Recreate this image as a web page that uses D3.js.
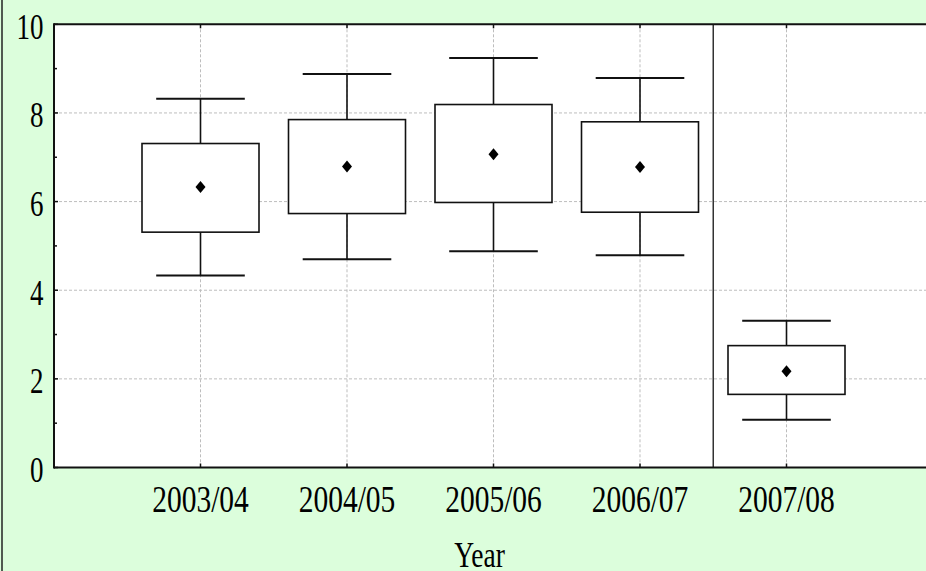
<!DOCTYPE html>
<html>
<head>
<meta charset="utf-8">
<script src="https://cdn.jsdelivr.net/npm/d3@7"></script>
<style>
	body { margin: 0; padding: 0; background: #dcfedc; overflow: hidden; }
	svg { display: block; }
	.lbl { font-family: "Liberation Serif", "DejaVu Serif", serif; fill: #000; }
</style>
</head>
<body>
<svg id="chart" width="926" height="571"></svg>
<script>
var categories = ["2003/04", "2004/05", "2005/06", "2006/07", "2007/08"];
var whiskerHigh = [8.32, 8.88, 9.24, 8.79, 3.31];
var boxHigh = [7.31, 7.85, 8.19, 7.80, 2.75];
var means = [6.33, 6.79, 7.07, 6.78, 2.17];
var boxLow = [5.31, 5.73, 5.98, 5.76, 1.65];
var whiskerLow = [4.33, 4.70, 4.88, 4.79, 1.08];
var yTicks = [0, 2, 4, 6, 8, 10];
var yMinor = [1, 3, 5, 7, 9];

var drawChart = function() {
	var svg = d3.select("#chart");
	var W = 926, H = 571;
	var pLeft = 54, pTop = 24.3, pBottom = 467.5, pRight = 933;

	svg.append("rect").attr("x", 0).attr("y", 0).attr("width", W).attr("height", H).attr("fill", "#dcfedc");
	// outer frame (only left side is visible)
	svg.append("line").attr("x1", 2).attr("x2", 2).attr("y1", 0).attr("y2", H)
		.attr("stroke", "#222").attr("stroke-width", 1.5);

	var y = d3.scaleLinear().domain([0, 10]).range([pBottom, pTop]);
	var x = d3.scalePoint().domain(categories).range([pLeft, pRight]).padding(1);

	// plot area
	svg.append("rect").attr("x", pLeft).attr("y", pTop).attr("width", pRight - pLeft).attr("height", pBottom - pTop)
		.attr("fill", "#fff");

	// grid
	var grid = svg.append("g").attr("stroke", "#bdbdbd").attr("stroke-width", 1).attr("stroke-dasharray", "3,2");
	grid.selectAll("line.h").data(yTicks.filter(function(d) { return d > 0 && d < 10; })).enter().append("line")
		.attr("x1", pLeft).attr("x2", pRight).attr("y1", function(d) { return y(d); }).attr("y2", function(d) { return y(d); });
	grid.selectAll("line.v").data(categories).enter().append("line")
		.attr("x1", function(d) { return x(d); }).attr("x2", function(d) { return x(d); })
		.attr("y1", pTop).attr("y2", pBottom);

	// divider between 2006/07 and 2007/08
	var divX = (x(categories[3]) + x(categories[4])) / 2;
	svg.append("line").attr("x1", divX).attr("x2", divX).attr("y1", pTop).attr("y2", pBottom)
		.attr("stroke", "#333").attr("stroke-width", 1.5);

	// boxes
	var boxW = 117, capW = 88.6;
	var g = svg.append("g").attr("stroke", "#111").attr("stroke-width", 1.6);
	categories.forEach(function(c, i) {
		var cx = x(c);
		g.append("line").attr("x1", cx).attr("x2", cx).attr("y1", y(whiskerHigh[i])).attr("y2", y(boxHigh[i]));
		g.append("line").attr("x1", cx).attr("x2", cx).attr("y1", y(boxLow[i])).attr("y2", y(whiskerLow[i]));
		g.append("line").attr("x1", cx - capW / 2).attr("x2", cx + capW / 2)
			.attr("y1", y(whiskerHigh[i])).attr("y2", y(whiskerHigh[i])).attr("stroke-width", 2);
		g.append("line").attr("x1", cx - capW / 2).attr("x2", cx + capW / 2)
			.attr("y1", y(whiskerLow[i])).attr("y2", y(whiskerLow[i])).attr("stroke-width", 2);
		g.append("rect").attr("x", cx - boxW / 2).attr("y", y(boxHigh[i]))
			.attr("width", boxW).attr("height", y(boxLow[i]) - y(boxHigh[i])).attr("fill", "#fff");
		var my = y(means[i]);
		svg.append("path").attr("d", "M" + cx + "," + (my - 6) + "L" + (cx + 5) + "," + my + "L" + cx + "," + (my + 6) + "L" + (cx - 5) + "," + my + "Z")
			.attr("fill", "#000");
	});

	// plot frame
	var frame = svg.append("g").attr("stroke", "#111").attr("stroke-width", 2).attr("fill", "none");
	frame.append("line").attr("x1", pLeft).attr("x2", pRight).attr("y1", pTop).attr("y2", pTop);
	frame.append("line").attr("x1", pLeft).attr("x2", pRight).attr("y1", pBottom).attr("y2", pBottom);
	frame.append("line").attr("x1", pLeft).attr("x2", pLeft).attr("y1", pTop - 1).attr("y2", pBottom + 1);

	// ticks (inside)
	var ticks = svg.append("g").attr("stroke", "#111").attr("stroke-width", 1.5);
	ticks.selectAll("line.maj").data(yTicks).enter().append("line")
		.attr("x1", pLeft).attr("x2", pLeft + 4).attr("y1", function(d) { return y(d); }).attr("y2", function(d) { return y(d); });
	ticks.selectAll("line.min").data(yMinor).enter().append("line")
		.attr("x1", pLeft).attr("x2", pLeft + 3).attr("y1", function(d) { return y(d); }).attr("y2", function(d) { return y(d); });
	categories.forEach(function(c) {
		ticks.append("line").attr("x1", x(c)).attr("x2", x(c)).attr("y1", pBottom).attr("y2", pBottom - 4);
		ticks.append("line").attr("x1", x(c)).attr("x2", x(c)).attr("y1", pTop).attr("y2", pTop + 4);
	});

	// y labels
	svg.selectAll("text.yl").data(yTicks).enter().append("text")
		.attr("class", "lbl").attr("text-anchor", "end").attr("font-size", 27)
		.attr("transform", function(d) { return "translate(43.5," + (y(d) + 14.5) + ") scale(1,1.3)"; })
		.text(function(d) { return d; });

	// x labels
	svg.selectAll("text.xl").data(categories).enter().append("text")
		.attr("class", "lbl").attr("text-anchor", "middle").attr("font-size", 29.5)
		.attr("transform", function(d) { return "translate(" + x(d) + ",512) scale(1,1.3)"; })
		.text(function(d) { return d; });

	svg.append("text").attr("class", "lbl").attr("text-anchor", "middle").attr("font-size", 27.5)
		.attr("transform", "translate(479.5,567) scale(1,1.27)").text("Year");
};

drawChart();
</script>
</body>
</html>
